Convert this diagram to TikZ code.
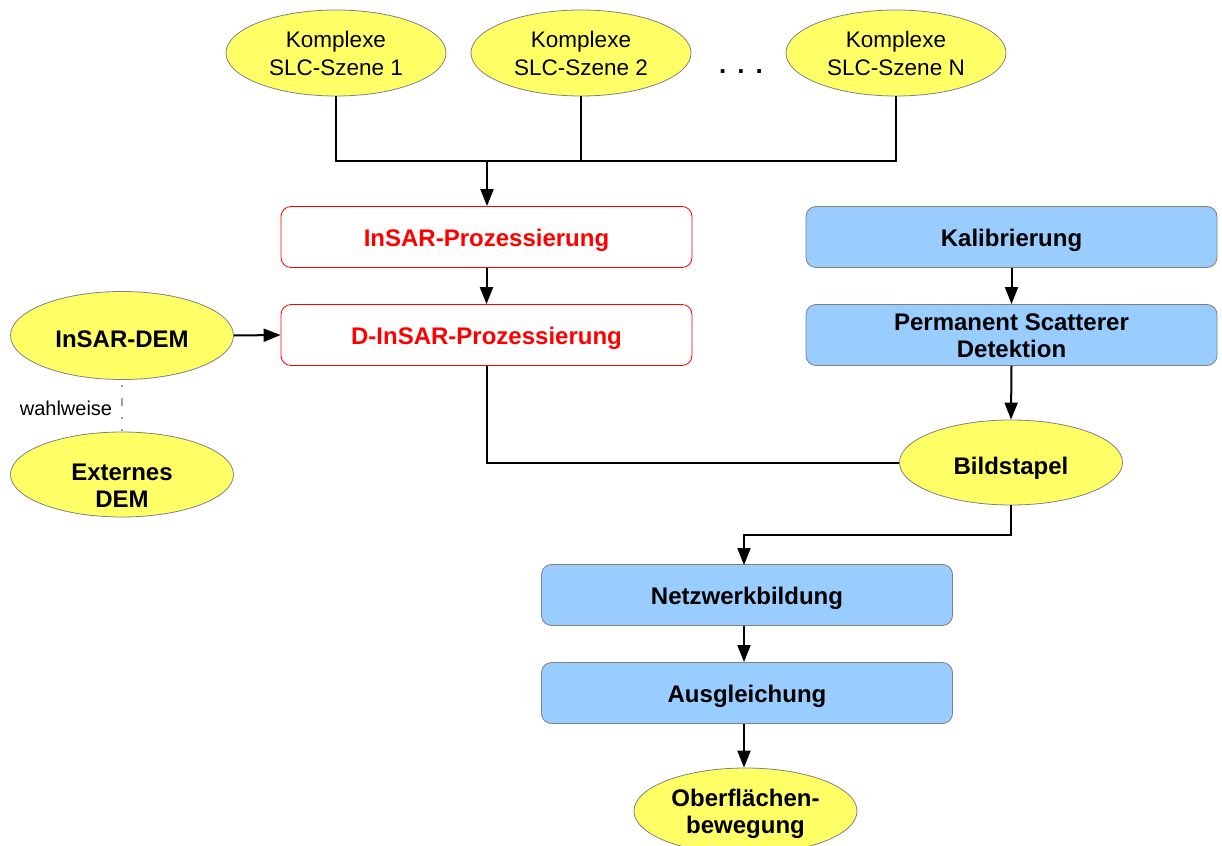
\documentclass[tikz,border=0pt]{standalone}
\usepackage{fontspec}
\setmainfont{Liberation Sans}
\usetikzlibrary{shapes.geometric,arrows.meta}
\definecolor{ellfill}{HTML}{FFFF66}
\definecolor{boxfill}{HTML}{99CCFF}
\definecolor{edge}{HTML}{808080}
\definecolor{optline}{HTML}{A0A0A0}
\tikzset{
  scene/.style={ellipse, draw=edge, line width=0.4pt, fill=ellfill, inner sep=0pt,
    minimum width=110pt, minimum height=43pt, align=center,
    font=\fontsize{11.25}{14}\selectfont},
  dataell/.style={ellipse, draw=edge, line width=0.4pt, fill=ellfill, inner sep=0pt,
    minimum width=111.5pt, minimum height=43pt, align=center,
    font=\fontsize{12}{13.5}\selectfont\bfseries},
  oneline ell/.style={text height=11.6pt, text depth=0pt},
  redbox/.style={rectangle, rounded corners=5pt, draw=red, line width=0.4pt, fill=white,
    minimum width=205.5pt, minimum height=30.5pt, inner sep=0pt, align=center,
    text=red, font=\fontsize{12}{13.5}\selectfont\bfseries,
    text height=9.8pt, text depth=0pt},
  bluebox/.style={rectangle, rounded corners=5pt, draw=edge, line width=0.4pt, fill=boxfill,
    minimum width=205.5pt, minimum height=30.5pt, inner sep=0pt, align=center,
    font=\fontsize{12}{13.5}\selectfont\bfseries},
  oneline box/.style={text height=9.8pt, text depth=0pt},
  link/.style={line width=1pt, black},
  arr/.style={link, -{Triangle[length=8.5pt, width=6.5pt]}},
}
\begin{document}
\begin{tikzpicture}[x=0.5pt, y=-0.5pt]
  \path[use as bounding box, clip] (0,0) rectangle (1222,846);

  % input scenes
  \node[scene] (s1) at (336,53) {Komplexe\\SLC-Szene 1};
  \node[scene] (s2) at (581,53) {Komplexe\\SLC-Szene 2};
  \node[scene] (sn) at (896,53) {Komplexe\\SLC-Szene N};
  \node[font=\fontsize{13}{14}\selectfont\bfseries] (dots) at (741,72) {.\hspace{5.5pt}.\hspace{5.5pt}.};

  % interferometric chain
  \node[redbox] (insar) at (486.5,237) {InSAR-Prozessierung};
  \node[redbox] (dinsar) at (486.5,335) {D-InSAR-Prozessierung};

  % DEM sources
  \node[dataell, oneline ell, minimum height=44pt] (idem) at (122,335.5) {InSAR-DEM};
  \node[dataell, minimum height=42.5pt] (edem) at (122,474.5)
    {\raisebox{-7pt}[\height][\depth]{\begin{tabular}{@{}c@{}}Externes\\DEM\end{tabular}}};
  \node[font=\fontsize{10}{12}\selectfont] (opt) at (66,408) {wahlweise};

  % persistent scatterer chain
  \node[bluebox, oneline box] (kal) at (1011.5,237) {Kalibrierung};
  \node[bluebox] (psd) at (1011.5,335) {\rule{0pt}{9.6pt}Permanent Scatterer\\Detektion};
  \node[dataell, oneline ell, minimum height=42.5pt] (stack) at (1011,462.5) {Bildstapel};

  % estimation
  \node[bluebox, oneline box] (net) at (747,595) {Netzwerkbildung};
  \node[bluebox, oneline box] (adj) at (747,693) {Ausgleichung};
  \node[dataell, minimum height=43pt] (mov) at (745.5,811) {\rule{0pt}{11.3pt}Oberfl\"achen-\\bewegung};

  % connectors
  \coordinate (join) at (487,161);
  \draw[link] (s1.south) -- (s1.south |- join) -- (sn.south |- join) -- (sn.south);
  \draw[link] (s2.south) -- (s2.south |- join);
  \draw[arr] (join) -- (insar.north -| join);
  \draw[arr] (insar) -- (dinsar);
  \draw[arr] (idem.east) -- (dinsar.west);
  \draw[optline, line width=1pt,
    dash pattern=on 0pt off 2.5pt on 1pt off 5.5pt on 4pt off 5.5pt on 1pt off 5pt on 1pt off 10pt]
    (idem.south) -- (edem.north);
  \draw[link] (dinsar.south) |- (stack.west);
  \draw[arr] (kal) -- (psd);
  \draw[arr] (psd.south) -- (stack.north);
  \coordinate (bend) at (1011,535);
  \coordinate (netin) at (744,565);
  \draw[arr] (stack.south) -- (bend) -| (netin);
  \draw[arr] (net.south -| netin) -- (adj.north -| netin);
  \draw[arr] (adj.south -| netin) -- (mov.north -| netin);
\end{tikzpicture}
\end{document}
